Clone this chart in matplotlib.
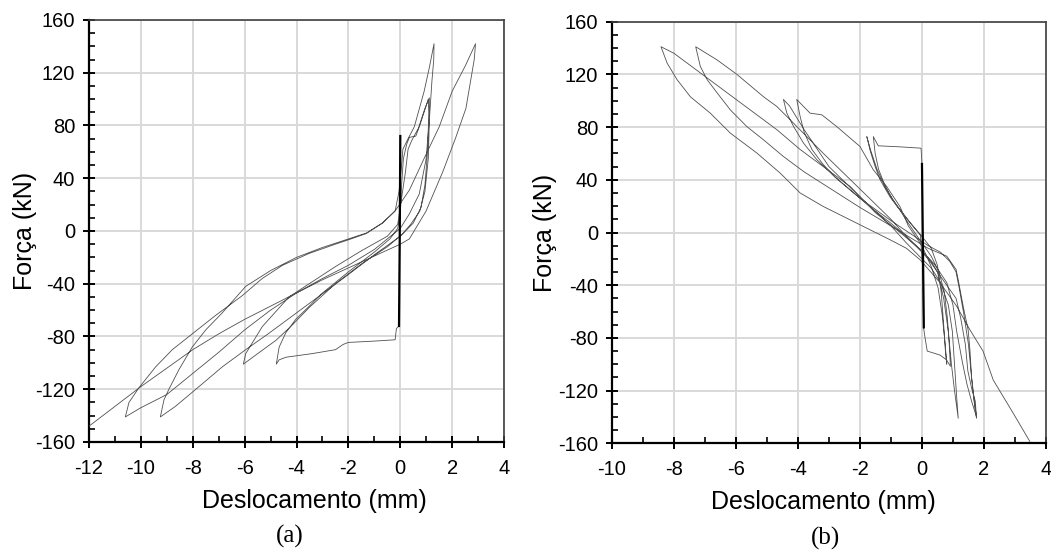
import numpy as np
import matplotlib
matplotlib.use('Agg')
import matplotlib.pyplot as plt
from matplotlib.ticker import MultipleLocator

plt.rcParams['font.family'] = ['Liberation Sans', 'DejaVu Sans']
plt.rcParams['axes.unicode_minus'] = False

#------------------------------- data (mm, kN)
# (a) initial elastic cycles (thick line)
a_elastic_x = [0.0, -0.02, -0.05]
a_elastic_y = [72, 0, -72]

# (a) cyclic path
a_x = [-0.05, -0.15, -0.2, -1.0, -2.0, -2.2, -2.5, -3.4, -4.4, -4.67, -4.78,
       -4.67, -4.41, -4.03, -3.51, -3.0, -2.0, -1.0, -0.4, -0.1, 0.0, 0.05, 0.12, 0.25, 0.35, 0.6, 0.75, 1.0, 1.08,
       1.1, 1.05, 0.95, 0.8, 0.5, 0.1, -0.5, -1.5, -2.5, -3.51, -4.2, -4.8, -5.5, -6.05,
       -5.96, -5.32, -4.29, -3.51, -2.5, -1.5, -0.5, -0.1, 0.05, 0.2, 0.3, 0.45, 0.7, 0.95, 1.12,
       1.12, 1.08, 0.95, 0.75, 0.4, 0.0, -1.0, -2.0, -3.51, -5.06, -5.96, -6.86, -7.76, -8.67, -9.25,
       -9.11, -8.92, -8.53, -8.02, -7.5, -6.86, -5.96, -5.0, -4.0, -3.0, -2.0, -1.3, -0.7, -0.2, -0.05, 0.05, 0.1, 0.3, 0.54, 0.92, 1.12, 1.3,
       1.29, 1.22, 1.12, 0.99, 0.73, 0.35, 0.0, -0.5, -1.0, -2.0, -3.0, -4.0, -5.0, -6.0, -7.0, -8.0, -9.0, -10.0, -10.6,
       -10.46, -10.08, -9.43, -8.79, -8.15, -7.12, -6.09, -5.32, -4.54, -3.51, -2.5, -1.97, -1.32, -0.68, -0.17, 0.35, 0.99, 1.5, 2.0, 2.5, 2.9,
       2.85, 2.53, 2.14, 1.64, 0.99, 0.35, 0.0, -1.0, -2.0, -3.0, -4.0, -5.0, -6.0, -7.0, -8.0, -9.0, -10.0, -11.0, -12.0]
a_y = [-72, -74, -82.5, -83.5, -84.5, -86, -90, -93, -95.7, -97.7, -101,
       -88, -77, -67, -57, -47, -31, -16, -6, 2, 12, 35, 55, 66, 71, 72, 80, 95, 100,
       90, 60, 35, 18, 6, -2, -12, -25, -40, -58, -72, -83, -93, -101,
       -93, -72.5, -50, -40, -27, -15, -4, 5, 25, 45, 62, 69, 78, 93, 101,
       85, 55, 30, 15, 5, -4, -18, -33, -55, -77.5, -90, -103, -118, -133, -141,
       -128, -120, -105, -88, -75, -62, -42, -30, -20, -12.5, -6, -1.5, 6, 15, 30, 50, 62, 70, 79, 106, 124, 142,
       130, 114, 84, 54, 28, 13, 2, -6, -14, -26, -36, -47, -60, -75, -92, -108, -124, -134, -141,
       -130, -119, -103, -90, -80, -64, -49, -36, -26, -17, -10, -6.5, -2, 6, 16, 31, 58, 79, 106, 125, 142,
       130, 93, 71, 45, 15, -6, -10, -19, -28, -37, -47, -57, -67, -78, -90, -104, -118, -133, -148]

# (b) initial elastic cycles (thick line)
b_elastic_x = [0.0, 0.03, 0.06]
b_elastic_y = [52, -10, -72]

# (b) cyclic path
b_x = [0.0, -0.03, -0.7, -1.41, -1.57,
       -1.51, -1.4, -1.2, -0.95, -0.6, -0.3, -0.05, 0.03, 0.05,
       0.1, 0.17, 0.58, 0.79, 0.92,
       0.88, 0.82, 0.72, 0.55, 0.3, 0.0, -0.44, -0.71, -1.03, -1.35, -1.51, -1.67, -1.78,
       -1.65, -1.45, -1.2, -0.8, -0.4, 0.0, 0.3, 0.5, 0.62, 0.7, 0.75, 0.8,
       0.75, 0.65, 0.52, 0.3, 0.0, -0.44, -0.71, -1.14, -1.57, -2.0, -2.75, -3.23, -3.61, -3.82, -4.04,
       -3.93, -3.8, -3.55, -3.2, -2.8, -2.2, -1.6, -1.0, -0.5, 0.0, 0.3, 0.5, 0.7, 0.85, 0.95, 1.05, 1.17,
       1.12, 1.05, 0.98, 0.85, 0.6, 0.3, 0.0, -0.5, -1.0, -2.0, -3.0, -3.8, -4.27, -4.47,
       -4.36, -4.14, -3.82, -3.39, -2.8, -2.0, -1.0, -0.3, 0.2, 0.6, 0.9, 1.1, 1.2, 1.35, 1.5, 1.6, 1.68, 1.76,
       1.72, 1.6, 1.48, 1.4, 1.25, 1.1, 0.8, 0.5, 0.2, 0.0, -0.5, -1.0, -2.0, -3.18, -4.25, -4.68, -5.11, -5.97, -6.61, -7.3,
       -7.15, -6.93, -6.61, -6.18, -5.65, -5.11, -4.47, -3.8, -3.0, -2.0, -1.0, -0.3, 0.2, 0.6, 0.8, 1.1, 1.17, 1.33, 1.49, 1.55, 1.6, 1.7, 1.76,
       1.6, 1.45, 1.3, 1.12, 1.0, 0.8, 0.4, 0.0, -0.6, -1.5, -2.32, -3.18, -3.93, -4.68, -5.54, -6.4, -7.26, -8.0, -8.42,
       -8.22, -7.9, -7.47, -6.83, -6.18, -5.32, -4.57, -3.93, -3.18, -2.32, -1.67, -1.03, -0.5, -0.06, 0.58, 1.12, 1.55, 1.97, 2.3, 2.94, 3.48]
b_y = [52, 64, 65, 65.8, 72.8,
       60, 48, 36, 25, 14, 5, -2, -30, -72,
       -80, -90, -93, -96.6, -101.6,
       -85, -65, -45, -30, -18, -8, 7, 17, 27, 40, 50, 62, 72.8,
       62, 48, 35, 20, 8, -3, -12, -25, -45, -70, -88, -100,
       -85, -62, -42, -26, -10, 5, 19.7, 35, 47.6, 65.3, 80.4, 89.3, 90.6, 95.6, 101,
       88, 76, 63, 52, 42, 30, 18, 7, -3, -14, -22, -30, -50, -75, -100, -120, -141,
       -125, -100, -75, -55, -38, -27, -20, -8, 5, 27, 50, 78, 96, 101,
       90.6, 80.4, 67.8, 55.2, 42, 26, 9, -2, -10, -15, -22, -30, -42, -62, -85, -110, -128, -141,
       -128, -118, -105, -85, -65, -50, -40, -30, -20, -15, -3, 10, 33, 60, 85.5, 95.6, 103, 120, 131, 141,
       126, 116, 106, 93, 80.4, 70.3, 57.7, 46, 34, 19, 5, -5, -12, -16, -18, -28, -36, -56, -74, -90, -110, -130, -140,
       -128, -115, -98, -75, -55, -38, -24, -14, -2, 15, 35, 50, 63, 78, 93, 108, 123, 136, 141,
       128.5, 116, 103, 90.6, 75.4, 60.2, 45, 30, 19.7, 9.6, 2, -5.5, -12, -20.7, -38, -56, -74, -90, -112, -137, -158.6]

a_xlim = (-12, 4)
b_xlim = (-10, 4)
y_lim = (-160, 160)
y_label = 'Força (kN)'
x_label = 'Deslocamento (mm)'
#-------------------------------

fig = plt.figure(figsize=(10.51, 5.52), dpi=100)
ax_a = fig.add_axes([0.0847, 0.1993, 0.3949, 0.7645])
ax_b = fig.add_axes([0.5823, 0.1969, 0.4129, 0.7638])

# axes, path, elastic part, limits, tag, x position of the x label and of the tag
panels = [
    (ax_a, a_x, a_y, a_elastic_x, a_elastic_y, a_xlim, '(a)', 0.542, 0.484),
    (ax_b, b_x, b_y, b_elastic_x, b_elastic_y, b_xlim, '(b)', 0.488, 0.492),
]

for ax, xs, ys, ex, ey, xlim, tag, lab_x, tag_x in panels:
    ax.plot(xs, ys, color='#505050', lw=0.6, solid_joinstyle='round', zorder=3)
    ax.plot(ex, ey, color='black', lw=1.6, zorder=4)

    ax.set_xlim(*xlim)
    ax.set_ylim(*y_lim)
    ax.xaxis.set_major_locator(MultipleLocator(2))
    ax.xaxis.set_minor_locator(MultipleLocator(1))
    ax.yaxis.set_major_locator(MultipleLocator(40))
    ax.yaxis.set_minor_locator(MultipleLocator(10))

    ax.grid(True, which='major', color='#d9d9d9', lw=1.4, zorder=0)
    ax.set_axisbelow(True)

    ax.tick_params(which='major', direction='inout', length=8, width=1.4,
                   labelsize=14.5, colors='black')
    ax.tick_params(axis='x', which='major', pad=8)
    ax.tick_params(axis='y', which='major', pad=6)
    ax.tick_params(which='minor', direction='in', length=4, width=1.2)
    ax.tick_params(top=False, right=False, which='both')

    for side in ['left', 'bottom']:
        ax.spines[side].set_linewidth(1.6)
        ax.spines[side].set_color('black')
    for side in ['top', 'right']:
        ax.spines[side].set_linewidth(1.2)
        ax.spines[side].set_color('#404040')

    ax.set_xlabel(x_label, fontsize=18, va='center')
    ax.xaxis.set_label_coords(lab_x, -0.14)
    ax.set_ylabel(y_label, fontsize=18, va='center')
    ax.yaxis.set_label_coords(-0.155, 0.5)
    ax.text(tag_x, -0.225, tag, transform=ax.transAxes, ha='center', va='center',
            fontsize=18, family=['Liberation Serif', 'DejaVu Serif'])

fig.savefig('out.png', dpi=100)
